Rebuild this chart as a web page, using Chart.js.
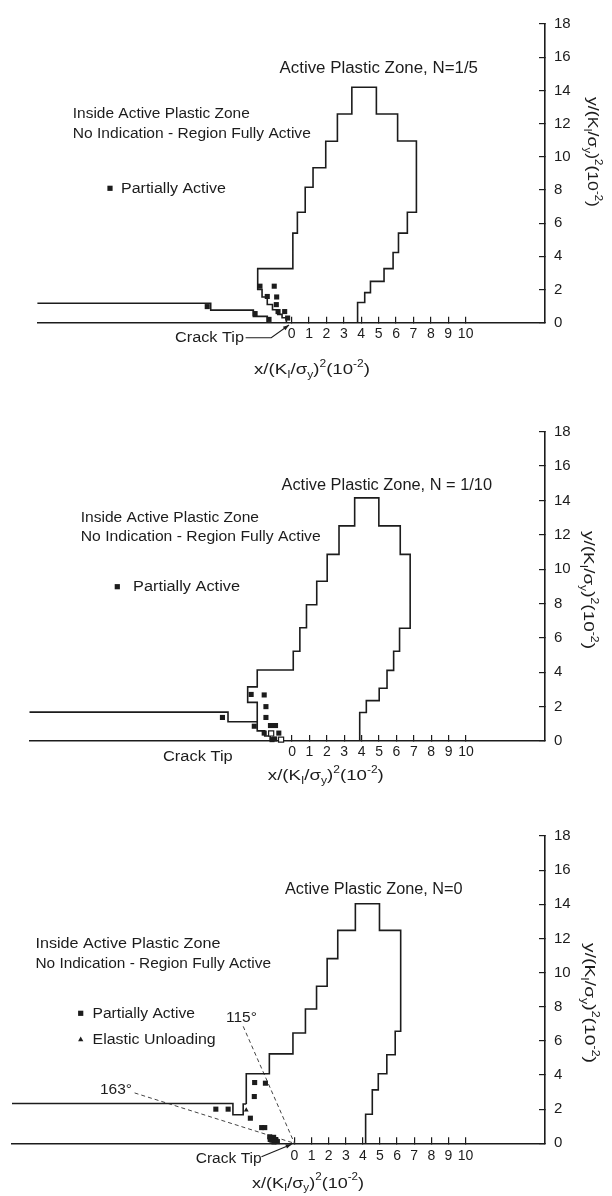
<!DOCTYPE html>
<html><head><meta charset="utf-8">
<script src="https://cdn.jsdelivr.net/npm/chart.js@4.4.0/dist/chart.umd.min.js"></script>
<style>
html,body{margin:0;padding:0;background:#fff;}
body{width:612px;height:1196px;position:relative;overflow:hidden;}
canvas{position:absolute;left:0;display:block;}
</style></head><body>
<canvas id="c1" width="612" height="400" style="top:0;width:612px;height:400px"></canvas>
<canvas id="c2" width="612" height="400" style="top:400px;width:612px;height:400px"></canvas>
<canvas id="c3" width="612" height="396" style="top:800px;width:612px;height:396px"></canvas>
<script>
// ---------- DATA (x/(KI/sy)^2 and y/(KI/sy)^2 in units of 10^-2) ----------
const xTickValues = [0,1,2,3,4,5,6,7,8,9,10];
const yTickValues = [0,2,4,6,8,10,12,14,16,18];

// Panel 1 : N = 1/5
const zoneN5 = [[-0.3,0],[-0.3,0.3],[-0.55,0.3],[-0.55,0.5],[-0.8,0.5],[-0.8,0.78],[-1.1,0.78],[-1.1,1.1],[-1.4,1.1],[-1.4,1.55],[-1.7,1.55],[-1.7,2.0],[-1.95,2.0],[-1.95,3.26],
 [0.07,3.26],[0.07,5.4],[0.33,5.4],[0.33,6.66],[0.78,6.66],[0.78,8.16],[1.23,8.16],[1.23,9.34],[1.96,9.34],[1.96,10.93],[2.63,10.93],[2.63,12.58],[3.46,12.58],[3.46,14.19],
 [4.87,14.19],[4.87,12.58],[6.09,12.58],[6.09,10.95],[7.17,10.95],[7.17,6.66],[6.65,6.66],[6.65,5.4],[6.14,5.4],[6.14,4.23],[5.83,4.23],[5.83,3.26],[5.31,3.26],[5.31,2.49],
 [4.53,2.49],[4.53,1.81],[4.2,1.81],[4.2,1.22],[3.79,1.22],[3.79,0]];
const wakeN5 = [[-14.61,1.17],[-4.65,1.17],[-4.65,0.76],[-2.2,0.76],[-2.2,0.38],[-1.4,0.38],[-1.4,0]];
const partialN5 = [[-4.85,0.97],[-2.1,0.55],[-1.3,0.2],[-1.82,2.2],[-1.0,2.2],[-1.4,1.58],[-0.86,1.55],[-0.88,1.09],[-0.78,0.67],[-0.4,0.67],[-0.23,0.28]];

// Panel 2 : N = 1/10
const zoneN10 = [[-1.24,0],[-1.24,0.29],[-1.57,0.29],[-1.57,0.59],[-2.0,0.59],[-2.0,2.25],[-2.55,2.25],[-2.55,3.15],[-2.0,3.15],[-2.0,4.13],
 [0.07,4.13],[0.07,5.22],[0.45,5.22],[0.45,6.59],[0.83,6.59],[0.83,7.93],[1.42,7.93],[1.42,9.3],[2.02,9.3],[2.02,10.86],[2.7,10.86],[2.7,12.52],[3.6,12.52],[3.6,14.15],
 [4.99,14.15],[4.99,12.52],[6.22,12.52],[6.22,10.86],[6.79,10.86],[6.79,6.56],[6.18,6.56],[6.18,5.22],[5.84,5.22],[5.84,4.11],[5.46,4.11],[5.46,3.07],[5.01,3.07],[5.01,2.35],
 [4.27,2.35],[4.27,1.66],[3.89,1.66],[3.89,0]];
const wakeN10 = [[-15.09,1.68],[-3.68,1.68],[-3.68,1.12],[-2.0,1.12]];
const partialN10 = [[-2.35,2.71],[-1.6,2.68],[-1.5,2.0],[-4.0,1.37],[-1.5,1.37],[-2.17,0.86],[-1.24,0.9],[-0.95,0.9],[-1.6,0.46],[-0.76,0.46],[-1.15,0.08],[-1.0,0.12]];
const openN10 = [[-1.2,0.44],[-0.63,0.08]];

// Panel 3 : N = 0
const zoneN0 = [[-2.82,2.3],[-2.82,4.07],[-1.47,4.07],[-1.47,5.24],[-0.09,5.24],[-0.09,6.46],[0.64,6.46],[0.64,7.87],[1.29,7.87],[1.29,9.2],[1.91,9.2],[1.91,10.82],[2.53,10.82],[2.53,12.47],[3.56,12.47],[3.56,14.03],
 [4.97,14.03],[4.97,12.47],[6.21,12.47],[6.21,6.56],[5.89,6.56],[5.89,5.19],[5.4,5.19],[5.4,4.07],[4.9,4.07],[4.9,3.13],[4.55,3.13],[4.55,1.7],[4.16,1.7],[4.16,0]];
const wakeN0 = [[-16.52,2.33],[-3.6,2.33],[-3.6,1.67],[-3.0,1.67],[-3.0,2.3],[-2.82,2.3]];
const partialN0 = [[-4.6,2.0],[-3.88,2.0],[-2.33,3.56],[-1.7,3.52],[-2.35,2.74],[-2.58,1.47],[-1.92,0.92],[-1.74,0.92],[-1.45,0.38],[-1.22,0.35],[-1.32,0.18],[-1.1,0.22],[-1.0,0.1],[-1.2,0.08],[-1.42,0.22]];
const elasticN0 = [[-2.82,1.95]];
const ray115 = [[-3.0,6.85],[0,0]];
const ray163 = [[-9.35,2.95],[0,0]];

// ---------- STYLE / LAYOUT ----------
const FONT = '"Liberation Sans", Arial, sans-serif';
const INK = '#1c1c1c';
const AXIS_TITLE = [['x/(K',0],['I',1],['/σ',0],['y',1],[')',0],['2',2],['(10',0],['-2',2],[')',0]];
const YAXIS_TITLE = [['y/(K',0],['I',1],['/σ',0],['y',1],[')',0],['2',2],['(10',0],['-2',2],[')',0]];

function pts(a){ return a.map(p => ({x:p[0], y:p[1]})); }
function lineDS(a, o){ return Object.assign({data:pts(a), showLine:true, borderColor:INK, borderWidth:1.6, pointRadius:0, fill:false, tension:0, clip:false}, o||{}); }
function markDS(a, style, o){ return Object.assign({data:pts(a), showLine:false, pointStyle:style, pointRadius:3.6, backgroundColor:INK, borderColor:INK, borderWidth:0, clip:false}, o||{}); }

function fitText(ctx, str, x, y, size, w){
  ctx.font = size + 'px ' + FONT;
  const m = ctx.measureText(str).width;
  let sx = w ? w / m : 1; sx = Math.max(0.8, Math.min(1.3, sx));
  ctx.save(); ctx.translate(x, y); ctx.scale(sx, 1);
  ctx.textAlign = 'left'; ctx.textBaseline = 'middle'; ctx.fillStyle = INK;
  ctx.fillText(str, 0, 0); ctx.restore();
}
function richText(ctx, segs, cx, cy, w, rot){
  ctx.save(); ctx.translate(cx, cy); if (rot) ctx.rotate(Math.PI/2);
  const ws = segs.map(s => { ctx.font = (s[1] ? 10 : 15.5) + 'px ' + FONT; return ctx.measureText(s[0]).width; });
  const tot = ws.reduce((a,b)=>a+b,0);
  ctx.scale(w/tot, 1);
  ctx.textAlign = 'left'; ctx.textBaseline = 'middle'; ctx.fillStyle = INK;
  let x = -tot/2;
  segs.forEach((s,i) => { ctx.font = (s[1] ? 10 : 15.5) + 'px ' + FONT; ctx.fillText(s[0], x, s[1]===1 ? 5 : s[1]===2 ? -6 : 0); x += ws[i]; });
  ctx.restore();
}

function makePanel(id, P){
  const annot = {
    id: 'annot' + id,
    afterDraw(chart){
      const ctx = chart.ctx;
      P.texts.forEach(t => fitText(ctx, t[0], t[1], t[2], t[3], t[4]));
      richText(ctx, AXIS_TITLE, P.xTitle[0], P.xTitle[1], P.xTitle[2], false);
      richText(ctx, YAXIS_TITLE, P.yTitle[0], P.yTitle[1], P.yTitle[2], true);
      ctx.fillStyle = INK;
      (P.legSq||[]).forEach(p => ctx.fillRect(p[0]-2.6, p[1]-2.6, 5.2, 5.2));
      (P.legTri||[]).forEach(p => { ctx.beginPath(); ctx.moveTo(p[0], p[1]-2.8); ctx.lineTo(p[0]+2.6, p[1]+2); ctx.lineTo(p[0]-2.6, p[1]+2); ctx.closePath(); ctx.fill(); });
      if (P.leader){
        const tx = chart.scales.x.getPixelForValue(0), ty = chart.scales.y.getPixelForValue(0);
        const L = P.leader.map(o => [tx + o[0], ty + o[1]]);
        ctx.save(); ctx.strokeStyle = INK; ctx.lineWidth = 1.1; ctx.beginPath();
        ctx.moveTo(L[0][0], L[0][1]); for (let i=1;i<L.length;i++) ctx.lineTo(L[i][0], L[i][1]); ctx.stroke();
        const a = L[L.length-1], b = L[L.length-2];
        const ang = Math.atan2(a[1]-b[1], a[0]-b[0]);
        ctx.beginPath(); ctx.moveTo(a[0], a[1]);
        ctx.lineTo(a[0] - 6*Math.cos(ang) + 2.2*Math.sin(ang), a[1] - 6*Math.sin(ang) - 2.2*Math.cos(ang));
        ctx.lineTo(a[0] - 6*Math.cos(ang) - 2.2*Math.sin(ang), a[1] - 6*Math.sin(ang) + 2.2*Math.cos(ang));
        ctx.closePath(); ctx.fillStyle = INK; ctx.fill(); ctx.restore();
      }
    }
  };
  const gridOpt = {display:true, drawOnChartArea:false, drawTicks:true, tickLength:-6, color:INK, lineWidth:1.2};
  const borderOpt = {display:true, color:INK, width:1.6};
  return new Chart(document.getElementById(id), {
    type: 'scatter',
    data: {datasets: P.datasets},
    options: {
      responsive:false, animation:false, devicePixelRatio:1, events:[],
      layout: {padding:{left:P.left, right:0, top:P.top, bottom:0}},
      plugins: {legend:{display:false}, tooltip:{enabled:false}},
      scales: {
        x: {type:'linear', position:'bottom', min:P.xmin, max:P.xmax,
            afterBuildTicks: s => { s.ticks = xTickValues.map(v => ({value:v})); },
            afterFit: s => { s.height = P.H - P.bottom; },
            grid: gridOpt, border: borderOpt,
            ticks: {color:INK, font:{family:FONT, size:14}, padding:P.xPad, maxRotation:0, autoSkip:false}},
        y: {type:'linear', position:'right', min:0, max:18,
            afterBuildTicks: s => { s.ticks = yTickValues.map(v => ({value:v})); },
            afterFit: s => { s.width = 612 - 545; },
            grid: gridOpt, border: borderOpt,
            ticks: {color:INK, font:{family:FONT, size:15}, padding:15, autoSkip:false}}
      }
    },
    plugins: [annot]
  });
}

makePanel('c1', {
  H:400, left:37.4, top:14.4, bottom:322.7, xmin:-14.61, xmax:14.56, xPad:9,
  datasets: [markDS(partialN5,'rect'), lineDS(zoneN5), lineDS(wakeN5)],
  texts: [['Active Plastic Zone, N=1/5',279.5,68.3,16,198.5],['Inside Active Plastic Zone',72.8,114,15.5,177],
          ['No Indication - Region Fully Active',72.8,133.3,15.5,238],['Partially Active',121,188.3,15.5,105],['Crack Tip',175,337.7,15.5,69]],
  legSq: [[110,188.3]],
  xTitle: [312,370,116], yTitle: [592,152,110],
  leader: [[-46,15],[-20.4,15],[-2.6,2.3]]
});
makePanel('c2', {
  H:400, left:29.5, top:31.7, bottom:341, xmin:-15.09, xmax:14.54, xPad:9,
  datasets: [markDS(partialN10,'rect'), markDS(openN10,'rect',{backgroundColor:'#fff', borderWidth:1.2}), lineDS(zoneN10), lineDS(wakeN10)],
  texts: [['Active Plastic Zone, N = 1/10',281.5,86,16,210.5],['Inside Active Plastic Zone',80.7,117.3,15.5,178.3],
          ['No Indication - Region Fully Active',80.7,136.7,15.5,240],['Partially Active',133,186.7,15.5,107],['Crack Tip',163,357,15.5,69.7]],
  legSq: [[117.3,186.7]],
  xTitle: [325.8,376,116], yTitle: [588,190,118]
});
makePanel('c3', {
  H:396, left:12, top:36, bottom:343.3, xmin:-16.52, xmax:14.65, xPad:10,
  datasets: [markDS(partialN0,'rect'), markDS(elasticN0,'triangle',{pointRadius:2.8}),
             lineDS(zoneN0), lineDS(wakeN0),
             lineDS(ray115,{borderWidth:1, borderDash:[4,3], borderColor:'#444'}), lineDS(ray163,{borderWidth:1, borderDash:[4,3], borderColor:'#444'})],
  texts: [['Active Plastic Zone, N=0',285,89.3,16,177.6],['Inside Active Plastic Zone',35.4,144,15.5,185],
          ['No Indication - Region Fully Active',35.4,164,15.5,235.6],['Partially Active',92.5,213.3,15.5,102.4],
          ['Elastic Unloading',92.5,239.3,15.5,123.2],['115°',226,218,15.5,0],['163°',100,290,15.5,0],['Crack Tip',195.7,358.3,15.5,66]],
  legSq: [[80.7,213.3]], legTri: [[80.7,239.3]],
  xTitle: [308,383.3,112], yTitle: [589,203,120],
  leader: [[-33,13.4],[-2.8,1]]
});
</script>
</body></html>
